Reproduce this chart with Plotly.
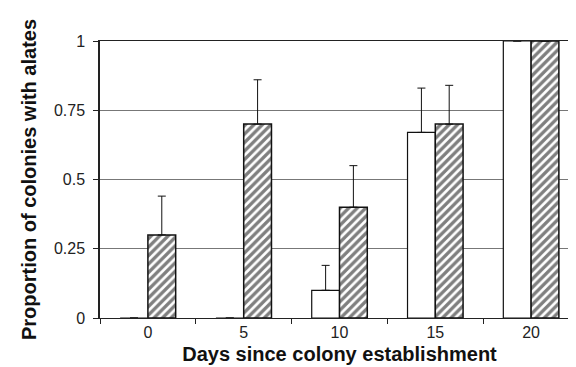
import plotly.graph_objects as go

days = ["0", "5", "10", "15", "20"]
open_vals = [0, 0, 0.1, 0.67, 1.0]
open_err = [0, 0, 0.09, 0.16, 0]
hatched_vals = [0.3, 0.7, 0.4, 0.7, 1.0]
hatched_err = [0.14, 0.16, 0.15, 0.14, 0]
y_ticks = [0, 0.25, 0.5, 0.75, 1]
y_ticklabels = ["0", "0.25", "0.5", "0.75", "1"]

FONT = "Liberation Sans, Arial, sans-serif"

fig = go.Figure()
fig.add_trace(go.Bar(
    x=days, y=open_vals, name="open",
    marker=dict(color="white", line=dict(color="#111", width=1.2)),
    error_y=dict(type="data", array=open_err, symmetric=False,
                 arrayminus=[0]*5, color="#111", thickness=1, width=4),
))
fig.add_trace(go.Bar(
    x=days, y=hatched_vals, name="hatched",
    marker=dict(color="white", line=dict(color="#111", width=1.5),
                pattern=dict(shape="/", fgcolor="#000", bgcolor="white",
                             size=6, solidity=0.55)),
    error_y=dict(type="data", array=hatched_err, symmetric=False,
                 arrayminus=[0]*5, color="#111", thickness=1, width=4),
))

fig.update_layout(
    width=576, height=367,
    margin=dict(l=92, r=3, t=33, b=57),
    paper_bgcolor="white", plot_bgcolor="white",
    barmode="group", bargap=0.42, bargroupgap=0,
    showlegend=False,
    font=dict(family=FONT, color="#222"),
)
fig.update_xaxes(
    type="category", tickson="boundaries",
    ticks="outside", ticklen=5, tickcolor="#222", tickwidth=1,
    showline=True, linecolor="#222", linewidth=1.3, mirror=True,
    showgrid=False,
    tickfont=dict(size=16, color="#222"),
    title=dict(text="<b>Days since colony establishment</b>",
               font=dict(size=20, color="#111"), standoff=6),
)
fig.update_yaxes(
    range=[0, 1], tickvals=y_ticks, ticktext=y_ticklabels,
    ticks="outside", ticklen=5, tickcolor="#222", tickwidth=1,
    ticklabelstandoff=5,
    showline=True, linecolor="#222", linewidth=1.5, mirror=True,
    showgrid=True, gridcolor="#777", gridwidth=1,
    zeroline=False,
    tickfont=dict(size=16, color="#222"),
    title=dict(text="<b>Proportion of colonies with alates</b>",
               font=dict(size=20, color="#111"), standoff=12),
)
fig.write_html("out.html")
